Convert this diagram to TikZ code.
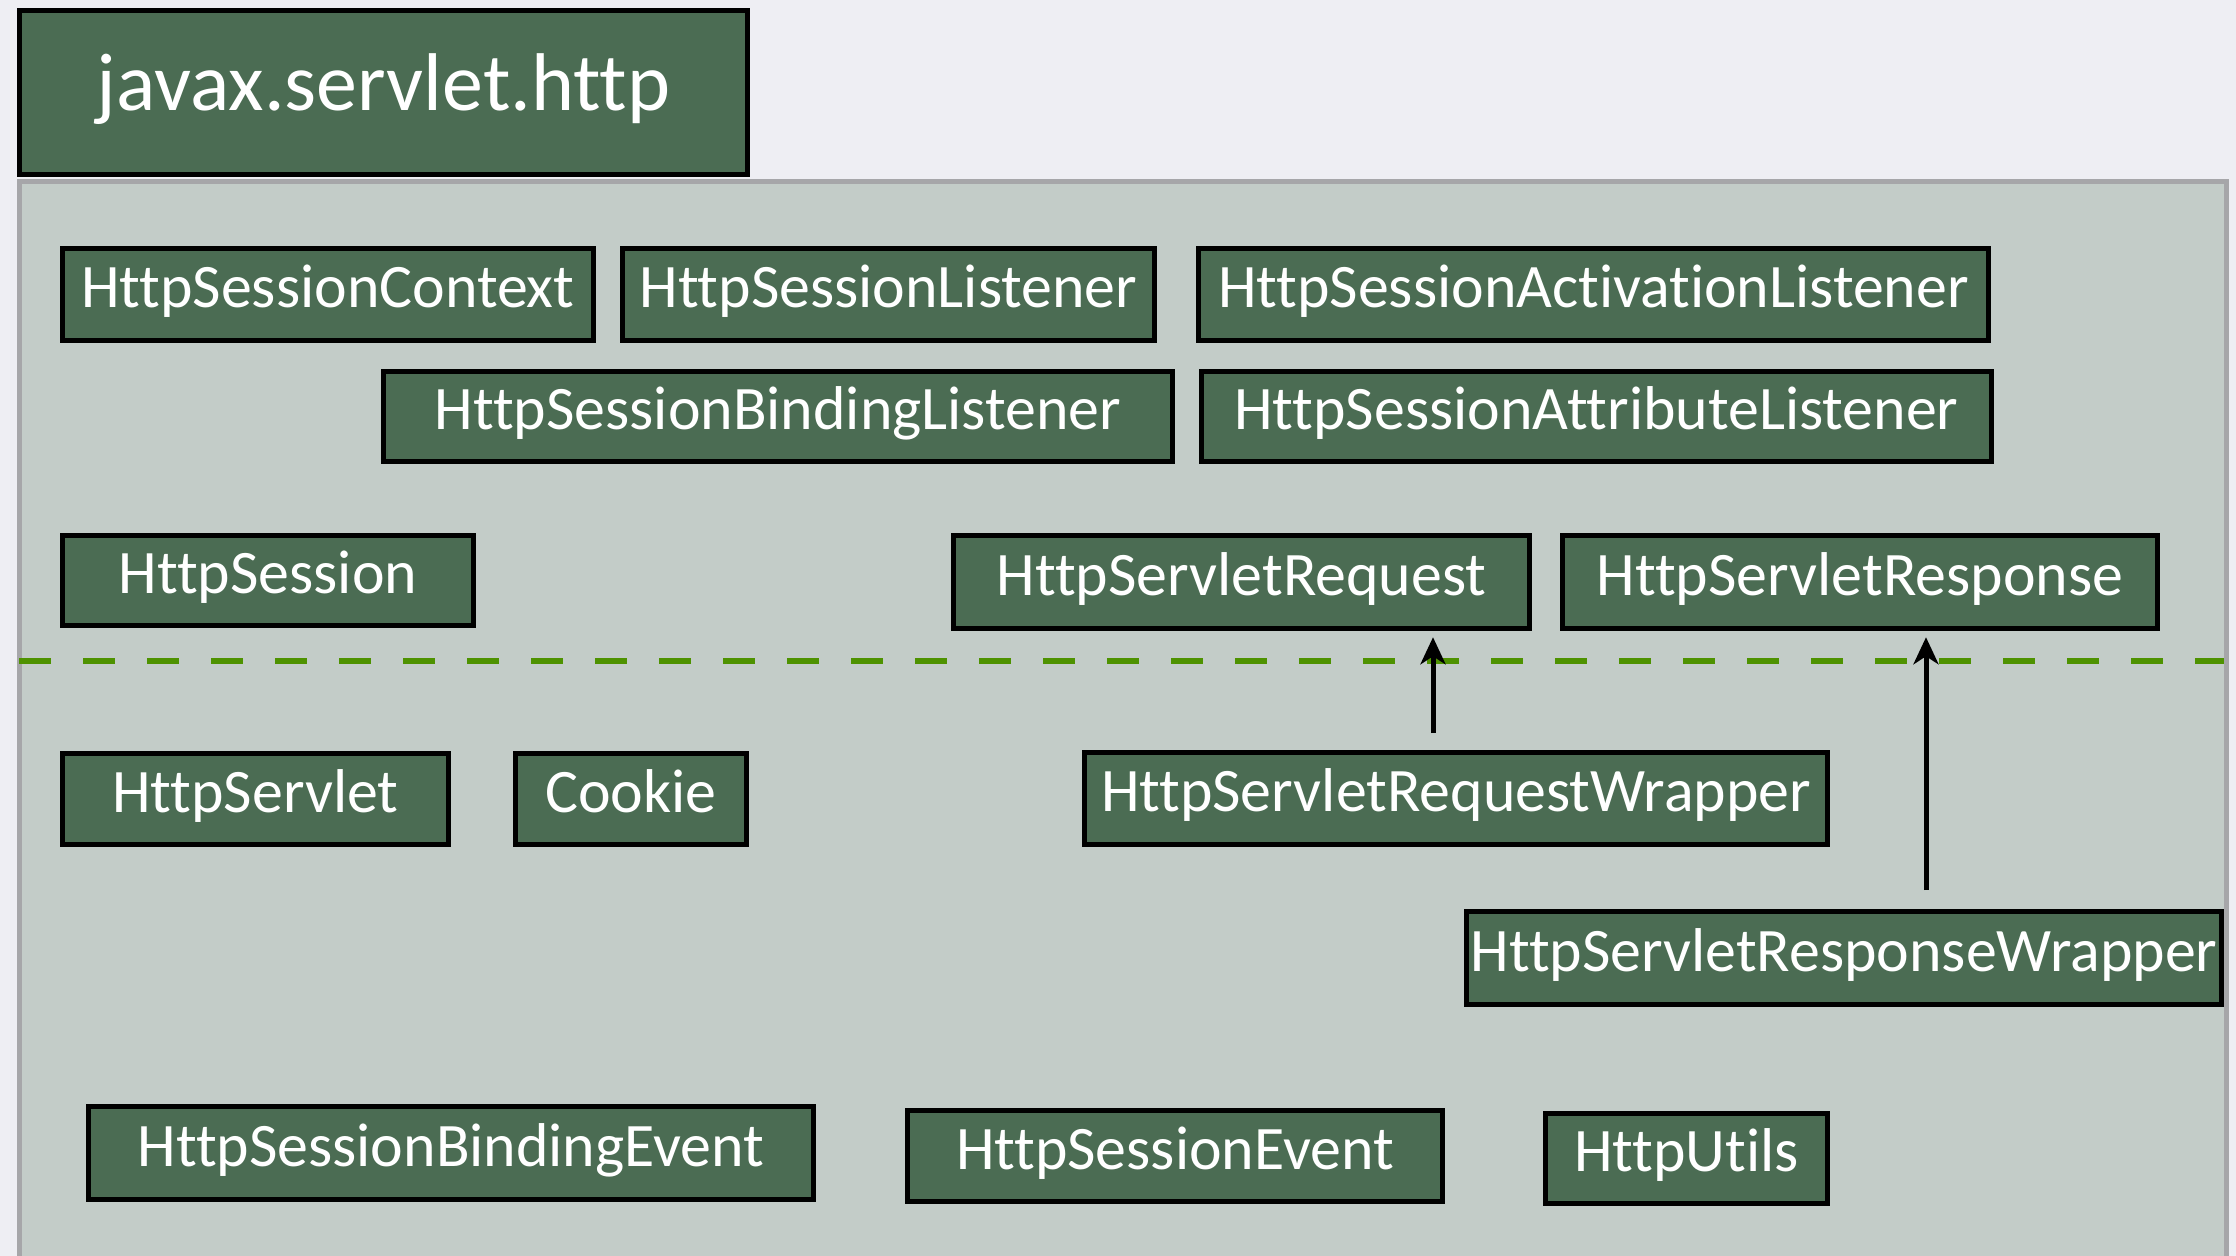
\documentclass[tikz,border=0pt]{standalone}
\usepackage{fontspec}
\setmainfont{Carlito}[Ligatures={NoCommon,NoContextual,NoRequired}]
\usetikzlibrary{arrows.meta}
\definecolor{bgcol}{HTML}{EEEEF3}
\definecolor{panelfill}{HTML}{C3CCC8}
\definecolor{panelborder}{HTML}{A6A6A9}
\definecolor{boxgreen}{HTML}{4B6C53}
\definecolor{dashgreen}{HTML}{4E9200}
\tikzset{
  classbox/.style={draw=black, line width=0.055cm, fill=boxgreen, text=white,
    inner sep=0pt, font=\fontsize{17.6pt}{20pt}\selectfont,
    text height=0.40cm, text depth=0.14cm},
  titlebox/.style={draw=black, line width=0.055cm, fill=boxgreen, text=white,
    inner sep=0pt, font=\fontsize{23.3pt}{26pt}\selectfont,
    text height=0.52cm, text depth=0.15cm},
  inherit/.style={line width=0.05cm, draw=black,
    -{Stealth[length=0.27cm, width=0.25cm, inset=0.08cm]}, shorten >=0.06cm},
  sepline/.style={draw=dashgreen, line width=0.06cm, dash pattern=on 0.32cm off 0.32cm}
}
\begin{document}
\begin{tikzpicture}
\useasboundingbox (0,0) rectangle (22.36,-12.56);
\fill[bgcol] (0,0) rectangle (22.36,-12.56);
% panel
\fill[panelfill] (0.195,-1.815) rectangle (22.265,-12.56);
\draw[panelborder, line width=0.05cm] (0.195,-12.56) -- (0.195,-1.815) -- (22.265,-1.815) -- (22.265,-12.56);
% title
\node[titlebox, minimum width=7.28cm, minimum height=1.64cm] (title) at (3.835,-0.925) {javax.servlet.http};
% separator
\coordinate (sepL) at (0.19,-6.61);
\coordinate (sepR) at (22.24,-6.61);
\draw[sepline] (sepL) -- (sepR);
% row 1
\node[classbox, minimum width=5.31cm, minimum height=0.92cm] (ctx) at (3.28,-2.945) {HttpSessionContext};
\node[classbox, minimum width=5.32cm, minimum height=0.92cm] (lst) at (8.885,-2.945) {HttpSessionListener};
\node[classbox, minimum width=7.90cm, minimum height=0.92cm] (act) at (15.935,-2.945) {HttpSessionActivationListener};
% row 2
\node[classbox, minimum width=7.89cm, minimum height=0.90cm] (bind) at (7.78,-4.165) {HttpSessionBindingListener};
\node[classbox, minimum width=7.90cm, minimum height=0.90cm] (attr) at (15.965,-4.165) {HttpSessionAttributeListener};
% row 3
\node[classbox, minimum width=4.11cm, minimum height=0.90cm] (sess) at (2.68,-5.805) {HttpSession};
\node[classbox, minimum width=5.76cm, minimum height=0.93cm] (req) at (12.415,-5.82) {HttpServletRequest};
\node[classbox, minimum width=5.95cm, minimum height=0.93cm] (resp) at (18.60,-5.82) {HttpServletResponse};
% row 4
\node[classbox, minimum width=3.86cm, minimum height=0.91cm] (servlet) at (2.555,-7.99) {HttpServlet};
\node[classbox, minimum width=2.31cm, minimum height=0.91cm] (cookie) at (6.31,-7.99) {Cookie};
\node[classbox, minimum width=7.43cm, minimum height=0.92cm] (reqw) at (14.56,-7.985) {HttpServletRequestWrapper};
% row 5
\node[classbox, minimum width=7.55cm, minimum height=0.93cm] (respw) at (18.44,-9.58) {HttpServletResponseWrapper};
% row 6
\node[classbox, minimum width=7.25cm, minimum height=0.93cm] (bevt) at (4.51,-11.53) {HttpSessionBindingEvent};
\node[classbox, minimum width=5.35cm, minimum height=0.91cm] (evt) at (11.75,-11.56) {HttpSessionEvent};
\node[classbox, minimum width=2.82cm, minimum height=0.90cm] (utils) at (16.865,-11.585) {HttpUtils};
% inheritance arrows
\coordinate (a1) at (14.33,-7.33);
\coordinate (a2) at (19.26,-8.90);
\draw[inherit] (a1) -- (a1 |- req.south);
\draw[inherit] (a2) -- (a2 |- resp.south);
\end{tikzpicture}
\end{document}
